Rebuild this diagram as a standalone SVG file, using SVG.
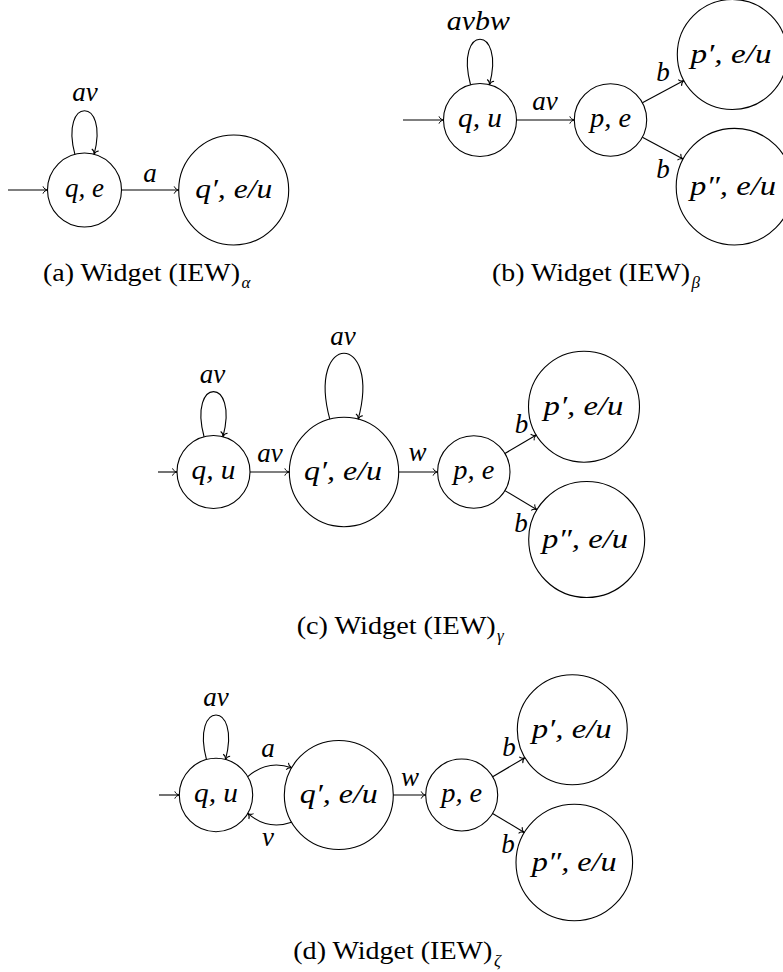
<svg xmlns="http://www.w3.org/2000/svg" width="783" height="972" viewBox="0 0 783 972">
<style>
.n{fill:#fff;stroke:#000;stroke-width:1.1}
.e{fill:none;stroke:#000;stroke-width:1.1;marker-end:url(#arr)}
.m{font-family:'Liberation Serif','DejaVu Serif',serif;font-style:italic;font-size:27px;fill:#000;text-anchor:middle}
.c{font-family:'Liberation Serif','DejaVu Serif',serif;font-size:25px;fill:#000}
.s{font-family:'Liberation Serif','DejaVu Serif',serif;font-style:italic;font-size:17px;fill:#000}
</style>
<defs>
<marker id="arr" viewBox="-6 -5 8 10" refX="0" refY="0" markerWidth="8" markerHeight="10" markerUnits="userSpaceOnUse" orient="auto">
<path d="M -4.5 -3.6 C -3.8 -1.4 -1.5 -0.3 0 0 C -1.5 0.3 -3.8 1.4 -4.5 3.6" fill="none" stroke="#000" stroke-width="1"/>
</marker>
</defs>
<rect width="783" height="972" fill="#fff"/>

<!-- (a) -->
<g id="a_qe"><circle class="n" cx="84.5" cy="190" r="37"/><text class="m" x="84.5" y="197" textLength="39" lengthAdjust="spacingAndGlyphs">q, e</text></g>
<g id="a_q1"><circle class="n" cx="233.7" cy="190" r="55"/><text class="m" x="233.7" y="198" textLength="77" lengthAdjust="spacingAndGlyphs">q′, e/u</text></g>

<!-- (b) -->
<g id="b_qu"><circle class="n" cx="480" cy="120" r="36.5"/><text class="m" x="480" y="127" textLength="44" lengthAdjust="spacingAndGlyphs">q, u</text></g>
<g id="b_pe"><circle class="n" cx="610.5" cy="120" r="36.2"/><text class="m" x="610.5" y="127" textLength="41" lengthAdjust="spacingAndGlyphs">p, e</text></g>
<g id="b_p1"><circle class="n" cx="732.3" cy="54.5" r="55"/><text class="m" x="731" y="62.5" textLength="81" lengthAdjust="spacingAndGlyphs">p′, e/u</text></g>
<g id="b_p2"><circle class="n" cx="734.5" cy="186.7" r="58.3"/><text class="m" x="733" y="194.7" textLength="86" lengthAdjust="spacingAndGlyphs">p″, e/u</text></g>

<!-- (c) -->
<g id="c_qu"><circle class="n" cx="213.5" cy="472" r="36.5"/><text class="m" x="213.5" y="479" textLength="44" lengthAdjust="spacingAndGlyphs">q, u</text></g>
<g id="c_q1"><circle class="n" cx="344" cy="472" r="54.7"/><text class="m" x="343" y="480" textLength="78" lengthAdjust="spacingAndGlyphs">q′, e/u</text></g>
<g id="c_pe"><circle class="n" cx="473.8" cy="472" r="36.2"/><text class="m" x="473.8" y="479" textLength="41" lengthAdjust="spacingAndGlyphs">p, e</text></g>
<g id="c_p1"><circle class="n" cx="584" cy="406.7" r="55.5"/><text class="m" x="583.5" y="414.7" textLength="80" lengthAdjust="spacingAndGlyphs">p′, e/u</text></g>
<g id="c_p2"><circle class="n" cx="586.7" cy="539.5" r="58"/><text class="m" x="585" y="547.5" textLength="86" lengthAdjust="spacingAndGlyphs">p″, e/u</text></g>

<!-- (d) -->
<g id="d_qu"><circle class="n" cx="216" cy="795" r="36.7"/><text class="m" x="216" y="802" textLength="44" lengthAdjust="spacingAndGlyphs">q, u</text></g>
<g id="d_q1"><circle class="n" cx="338.8" cy="795" r="54.5"/><text class="m" x="338.8" y="803" textLength="78" lengthAdjust="spacingAndGlyphs">q′, e/u</text></g>
<g id="d_pe"><circle class="n" cx="461.7" cy="795" r="36"/><text class="m" x="461.7" y="802" textLength="41" lengthAdjust="spacingAndGlyphs">p, e</text></g>
<g id="d_p1"><circle class="n" cx="572.3" cy="729.7" r="55"/><text class="m" x="571.7" y="737.7" textLength="80" lengthAdjust="spacingAndGlyphs">p′, e/u</text></g>
<g id="d_p2"><circle class="n" cx="574.3" cy="862.5" r="58.3"/><text class="m" x="574.2" y="870.5" textLength="85" lengthAdjust="spacingAndGlyphs">p″, e/u</text></g>

<g id="connectors">
<!-- (a) -->
<path class="e" d="M 8 190 L 47.5 190"/>
<path class="e" d="M 121.5 190 L 178.7 190"/>
<path class="e" d="M 74.9 154.3 C 59.4 96.3 109.6 96.3 94.1 154.3"/>
<text class="m" x="150" y="182">a</text>
<text class="m" x="85" y="101">av</text>
<!-- (b) -->
<path class="e" d="M 403 120 L 443.5 120"/>
<path class="e" d="M 516.5 120 L 574.3 120"/>
<path class="e" d="M 642.4 102.8 L 683.9 80.6"/>
<path class="e" d="M 642.4 137.2 L 683.1 159.1"/>
<path class="e" d="M 470.55 84.74 C 454.3 24.1 505.7 24.1 489.45 84.74"/>
<text class="m" x="545" y="110">av</text>
<text class="m" x="663" y="81">b</text>
<text class="m" x="663" y="178">b</text>
<text class="m" x="478.3" y="30" textLength="63" lengthAdjust="spacingAndGlyphs">avbw</text>
<!-- (c) -->
<path class="e" d="M 158 472 L 177 472"/>
<path class="e" d="M 250 472 L 289.3 472"/>
<path class="e" d="M 398.7 472 L 437.6 472"/>
<path class="e" d="M 504.9 453.5 L 536.3 435"/>
<path class="e" d="M 504.9 490.6 L 536.9 509.7"/>
<path class="e" d="M 204.05 436.74 C 187.95 376.6 239.05 376.6 222.95 436.74"/>
<path class="e" d="M 329.8 419.2 C 306.2 331.3 381.8 331.3 358.2 419.2"/>
<text class="m" x="270" y="462">av</text>
<text class="m" x="417.5" y="461">w</text>
<text class="m" x="521.5" y="433">b</text>
<text class="m" x="521" y="532">b</text>
<text class="m" x="212.5" y="383">av</text>
<text class="m" x="343" y="345">av</text>
<!-- (d) -->
<path class="e" d="M 159 795 L 179.3 795"/>
<path class="e" d="M 247.8 776.6 C 261 765.1 275.1 762 291.6 767.75"/>
<path class="e" d="M 291.6 822.25 C 275.1 828 261 824.9 247.8 813.4"/>
<path class="e" d="M 393.3 795 L 425.7 795"/>
<path class="e" d="M 492.7 776.7 L 524.9 757.7"/>
<path class="e" d="M 492.6 813.5 L 524.3 832.5"/>
<path class="e" d="M 206.5 759.55 C 190.6 700.15 241.4 700.15 225.5 759.55"/>
<text class="m" x="268" y="757">a</text>
<text class="m" x="268" y="846">v</text>
<text class="m" x="410" y="786">w</text>
<text class="m" x="509" y="756">b</text>
<text class="m" x="508" y="853">b</text>
<text class="m" x="216" y="706">av</text>
</g>

<g id="captions">
<text class="c" x="43" y="280.5" textLength="197" lengthAdjust="spacingAndGlyphs">(a) Widget (IEW)</text><text class="s" x="241.5" y="288">α</text>
<text class="c" x="492" y="280.5" textLength="198" lengthAdjust="spacingAndGlyphs">(b) Widget (IEW)</text><text class="s" x="691.5" y="288">β</text>
<text class="c" x="296.7" y="634" textLength="199" lengthAdjust="spacingAndGlyphs">(c) Widget (IEW)</text><text class="s" x="497" y="641">γ</text>
<text class="c" x="293.3" y="959" textLength="199" lengthAdjust="spacingAndGlyphs">(d) Widget (IEW)</text><text class="s" x="494" y="966">ζ</text>
</g>
</svg>
